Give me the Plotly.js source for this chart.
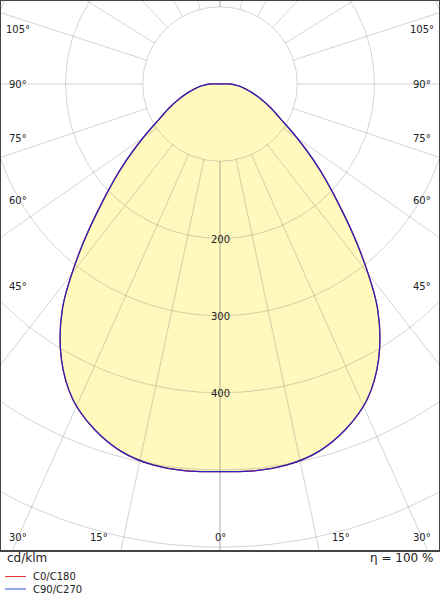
<!DOCTYPE html>
<html><head><meta charset="utf-8">
<script src="https://cdn.plot.ly/plotly-3.0.1.min.js"></script>
<style>html,body{margin:0;padding:0;background:#fff}#chart{width:440px;height:600px}</style>
</head><body><div id="chart"></div>
<script>
// ---- Data ----
const gammaDeg = [0,5,10,15,20,25,30,35,40,45,50,55,60,65,70,75,80,85,90];
const c0   = [502,503,501,493,476,451,411,356,282,215,164,122,91,72,56,43,32,22,14];
const c180 = [502,503,501,493,476,451,411,356,282,215,164,122,91,72,56,43,32,22,14];
const c90  = [502,503,501,493,476,451,411,356,282,215,164,122,91,72,56,43,32,22,14];
const c270 = [502,503,501,493,476,451,411,356,282,215,164,122,91,72,56,43,32,22,14];
const planeNames = ['C0/C180','C90/C270'];
const radialTickValues = [200,300,400];
const gridRadii = [100,200,300,400,500,600,700];
const gridAngles = [0,12,24,38,55,71.5,90,108,122,137,151,165,180];
const angleTickLabels = [0,15,30,45,60,75,90,105];
const unitLabel = 'cd/klm';
const efficiencyLabel = 'η = 100 %';

// ---- Geometry / style ----
const S = 0.772;              // px per cd/klm
const W = 440, H = 600;
const M = {l:1, r:1, t:1, b:50};
const CX = 220, CY = 84;      // pole position in px
const plotL = M.l, plotR = W - M.r, plotT = M.t, plotB = H - M.b;
const xr = [-(CX - plotL)/S, (plotR - CX)/S];
const yr = [-(plotB - CY)/S, (CY - plotT)/S];
const d2r = Math.PI/180;
const FONT = 'DejaVu Sans, Verdana, sans-serif';
const RED = '#e8262a', BLUE = '#2a24b8';
const RED_KEY = '#e8363a', BLUE_KEY = '#3050e0';

function plane(right, left) {
  const x = [0], y = [0];
  for (let i = gammaDeg.length - 1; i >= 0; i--) {
    const g = gammaDeg[i]*d2r;
    x.push(right[i]*Math.sin(g)); y.push(-right[i]*Math.cos(g));
  }
  for (let i = 1; i < gammaDeg.length; i++) {
    const g = gammaDeg[i]*d2r;
    x.push(-left[i]*Math.sin(g)); y.push(-left[i]*Math.cos(g));
  }
  x.push(0); y.push(0);
  return {x, y};
}
const p1 = plane(c0, c180);
const p2 = plane(c90, c270);

// grid
const gx = [], gy = [];
gridRadii.forEach(r => {
  for (let a = 0; a <= 360; a += 2) { gx.push(r*Math.sin(a*d2r)); gy.push(-r*Math.cos(a*d2r)); }
  gx.push(null); gy.push(null);
});
gridAngles.forEach(a => {
  [1,-1].forEach(s => {
    const t = s*a*d2r;
    gx.push(100*Math.sin(t), 1000*Math.sin(t), null);
    gy.push(-100*Math.cos(t), -1000*Math.cos(t), null);
  });
});

const smooth = {shape:'spline', smoothing:1};
const traces = [
  {x:p1.x, y:p1.y, type:'scatter', mode:'lines', fill:'toself', fillcolor:'#fff9bd',
   line:Object.assign({width:0}, smooth), hoverinfo:'skip', showlegend:false},
  {x:gx, y:gy, type:'scatter', mode:'lines', line:{color:'rgba(110,110,110,0.30)', width:1},
   hoverinfo:'skip', showlegend:false},
  {x:p1.x, y:p1.y, type:'scatter', mode:'lines', name:planeNames[0],
   line:Object.assign({color:RED, width:1.2}, smooth), showlegend:false},
  {x:p2.x, y:p2.y, type:'scatter', mode:'lines', name:planeNames[1],
   line:Object.assign({color:BLUE, width:1.3}, smooth), showlegend:false}
];

const ann = [];
radialTickValues.forEach(v => ann.push({x:0, y:-v, xref:'x', yref:'y', text:String(v), showarrow:false,
  font:{family:FONT, size:10, color:'#222'}, xanchor:'center', yanchor:'middle', yshift:-1}));

// angle labels on an inset frame
const insetHalfW = 202, insetBottom = 453;
angleTickLabels.forEach(a => {
  let dx, dy;
  if (a <= 30) { dy = insetBottom; dx = Math.min(insetBottom*Math.tan(a*d2r), insetHalfW); }
  else { dx = insetHalfW; dy = insetHalfW/Math.tan(a*d2r); }
  const sides = a === 0 ? [1] : [-1, 1];
  sides.forEach(s => ann.push({x:s*dx/S, y:-dy/S, xref:'x', yref:'y', text:a+'°', showarrow:false,
    font:{family:FONT, size:10, color:'#222'}, xanchor:'center', yanchor:'middle'}));
});

function py(p) { return (plotB - p)/(plotB - plotT); }
function px(p) { return (p - plotL)/(plotR - plotL); }
ann.push({xref:'paper', yref:'paper', x:px(5), y:py(558), text:unitLabel, showarrow:false,
  xanchor:'left', yanchor:'middle', font:{family:FONT, size:12, color:'#222'}});
ann.push({xref:'paper', yref:'paper', x:px(435), y:py(558), text:efficiencyLabel, showarrow:false,
  xanchor:'right', yanchor:'middle', font:{family:FONT, size:12, color:'#222'}});

const shapes = [];
[[RED_KEY, 576.5], [BLUE_KEY, 589]].forEach((c, i) => {
  shapes.push({type:'line', xref:'paper', yref:'paper', x0:px(5), x1:px(26), y0:py(c[1]), y1:py(c[1]),
    line:{color:c[0], width:1}});
  ann.push({xref:'paper', yref:'paper', x:px(31), y:py(c[1]), text:planeNames[i], showarrow:false,
    xanchor:'left', yanchor:'middle', font:{family:FONT, size:10, color:'#222'}});
});

const axisCommon = {showgrid:false, zeroline:false, showticklabels:false, ticks:'',
  showline:true, mirror:true, linecolor:'#454545', linewidth:1.6, fixedrange:true};

const layout = {
  width:W, height:H, margin:M, paper_bgcolor:'#fff', plot_bgcolor:'#fff',
  xaxis:Object.assign({range:xr}, axisCommon),
  yaxis:Object.assign({range:yr}, axisCommon),
  showlegend:false, annotations:ann, shapes:shapes
};
Plotly.newPlot('chart', traces, layout, {displayModeBar:false, staticPlot:true});
</script></body></html>
